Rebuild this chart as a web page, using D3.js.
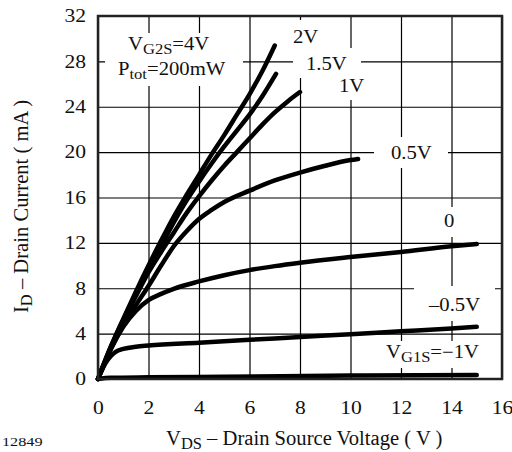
<!DOCTYPE html>
<meta charset="utf-8">
<script src="https://cdn.jsdelivr.net/npm/d3@7"></script>
<style>
    body { margin: 0; background: #fff; }
    text { font-family: "Liberation Serif", "Times New Roman", Times, serif; fill: #111; }
</style>
<body>
<script>
// axis ticks
var xTicks = [0, 2, 4, 6, 8, 10, 12, 14, 16];
var yTicks = [0, 4, 8, 12, 16, 20, 24, 28, 32];

// output curves, [VDS (V), ID (mA)], one array per VG1S
var vg1s2V   = [[0,0],[0.5,2.8],[1,5.3],[1.5,7.7],[2,10.0],[2.5,12.2],[3,14.3],[3.5,16.2],[4,18.0],[4.5,19.8],[5,21.5],[5.5,23.3],[6,25.1],[6.5,27.1],[7,29.4]];
var vg1s15V  = [[0,0],[0.5,2.8],[1,5.2],[1.5,7.5],[2,9.6],[2.5,11.7],[3,13.8],[3.5,15.7],[4,17.4],[4.5,19.0],[5,20.5],[5.5,21.9],[6,23.3],[6.5,24.9],[7.05,26.9]];
var vg1s1V   = [[0,0],[0.5,2.7],[1,5.1],[1.5,7.3],[2,9.4],[2.5,11.2],[3,12.9],[3.5,14.6],[4,16.1],[4.5,17.5],[5,18.8],[5.5,20.0],[6,21.2],[6.5,22.4],[7,23.5],[7.5,24.45],[8,25.3]];
var vg1s05V  = [[0,0],[0.5,2.6],[1,4.7],[1.5,6.5],[2,8.2],[2.5,10.0],[3,11.7],[3.5,13.0],[4,14.1],[4.5,14.9],[5,15.6],[6,16.6],[7,17.5],[8,18.2],[9,18.8],[10,19.3],[10.3,19.4]];
var vg1s0V   = [[0,0],[0.5,2.6],[1,4.6],[1.5,6.0],[2,6.95],[2.5,7.5],[3,7.95],[4,8.6],[5,9.15],[6,9.6],[7,9.95],[8,10.25],[10,10.75],[12,11.2],[14,11.7],[15,11.9]];
var vg1sm05V = [[0,0],[0.3,1.4],[0.5,2.0],[0.7,2.4],[1,2.65],[1.5,2.85],[2,2.95],[4,3.2],[6,3.45],[8,3.7],[10,3.95],[12,4.2],[14,4.45],[15,4.6]];
var vg1sm1V  = [[0,0],[0.5,0.1],[2,0.15],[5,0.2],[10,0.3],[15,0.35]];

var curves = [vg1s2V, vg1s15V, vg1s1V, vg1s05V, vg1s0V, vg1sm05V, vg1sm1V];

var W = 512, H = 452;
var margin = {top: 16, right: 10, bottom: 73, left: 98},
    width = W - margin.left - margin.right,
    height = H - margin.top - margin.bottom;

var svg = d3.select("body").append("svg")
    .attr("width", W)
    .attr("height", H);
var g = svg.append("g")
    .attr("transform", "translate(" + margin.left + "," + margin.top + ")");

var x = d3.scaleLinear().domain([0, 16]).range([0, width]);
var y = d3.scaleLinear().domain([0, 32]).range([height, 0]);

// grid
var gx = g.append("g")
    .attr("transform", "translate(0," + height + ")")
    .call(d3.axisBottom(x).tickValues(xTicks).tickSize(-height).tickFormat(""));
var gy = g.append("g")
    .call(d3.axisLeft(y).tickValues(yTicks).tickSize(-width).tickFormat(""));
[gx, gy].forEach(function(a) {
    a.select(".domain").remove();
    a.selectAll("line").attr("stroke", "#000").attr("stroke-width", 1.2);
});

// white boxes behind the labels (they cut the grid)
var boxes = [
    [105, 33, 138, 53],
    [288, 20, 34, 28],
    [293, 48, 68, 30],
    [335, 78, 35, 22],
    [374, 137, 74, 31],
    [440, 207, 25, 30],
    [414, 286, 81, 35],
    [383, 341, 107, 27]
];
svg.selectAll("rect.box")
    .data(boxes)
    .enter().append("rect")
    .attr("class", "box")
    .attr("x", function(d) { return d[0]; })
    .attr("y", function(d) { return d[1]; })
    .attr("width", function(d) { return d[2]; })
    .attr("height", function(d) { return d[3]; })
    .attr("fill", "#fff");

// curves
var line = d3.line()
    .x(function(d) { return x(d[0]); })
    .y(function(d) { return y(d[1]); })
    .curve(d3.curveMonotoneX);

g.selectAll("path.curve")
    .data(curves)
    .enter().append("path")
    .attr("class", "curve")
    .attr("d", line)
    .attr("fill", "none")
    .attr("stroke", "#000")
    .attr("stroke-width", 4.5)
    .attr("stroke-linecap", "round")
    .attr("stroke-linejoin", "round");

// frame
g.append("rect")
    .attr("width", width)
    .attr("height", height)
    .attr("fill", "none")
    .attr("stroke", "#222")
    .attr("stroke-width", 2.5);

// tick labels
var tx = g.append("g")
    .attr("transform", "translate(0," + height + ")")
    .call(d3.axisBottom(x).tickValues(xTicks).tickSize(0));
var ty = g.append("g")
    .call(d3.axisLeft(y).tickValues(yTicks).tickSize(0));
[tx, ty].forEach(function(a) {
    a.select(".domain").remove();
    a.attr("font-family", null).attr("font-size", null);
    a.selectAll("text").attr("font-size", 18).attr("fill", "#111")
        .attr("transform", "scale(1.2,1)");
});
tx.selectAll("text").attr("y", 35).attr("dy", null);
ty.selectAll("text").attr("x", -10);

// text with subscripts
function richText(px, py, parts, size, sx, rot) {
    var t = svg.append("text")
        .attr("transform", "translate(" + px + "," + py + ")" + (rot ? " rotate(" + rot + ")" : "") + " scale(" + sx + ",1)")
        .attr("font-size", size);
    var shift = 0;
    parts.forEach(function(p) {
        var sub = p[1] === 1;
        var s = sub ? size * 0.22 : 0;
        t.append("tspan")
            .attr("dy", s - shift)
            .attr("font-size", sub ? size * 0.8 : size)
            .text(p[0]);
        shift = s;
    });
    return t;
}

richText(128, 50, [["V"], ["G2S", 1], ["=4V"]], 18, 1.15);
richText(118, 75, [["P"], ["tot", 1], ["=200mW"]], 18, 1.15);
richText(293, 43, [["2V"]], 18, 1.15);
richText(306, 70, [["1.5V"]], 18, 1.15);
richText(339, 92, [["1V"]], 18, 1.15);
richText(391, 159, [["0.5V"]], 18, 1.15);
richText(444, 227, [["0"]], 18, 1.15);
richText(429, 311, [["\u20130.5V"]], 18, 1.15);
richText(386, 358, [["V"], ["G1S", 1], ["=\u22121V"]], 18, 1.15);

richText(166, 445, [["V"], ["DS", 1], [" \u2013 Drain Source Voltage ( V )"]], 20, 1.03);
richText(27.5, 313, [["I"], ["D", 1], [" \u2013 Drain Current ( mA )"]], 20, 1.03, -90);
richText(2, 446, [["12849"]], 13, 1.25);
</script>
</body>
